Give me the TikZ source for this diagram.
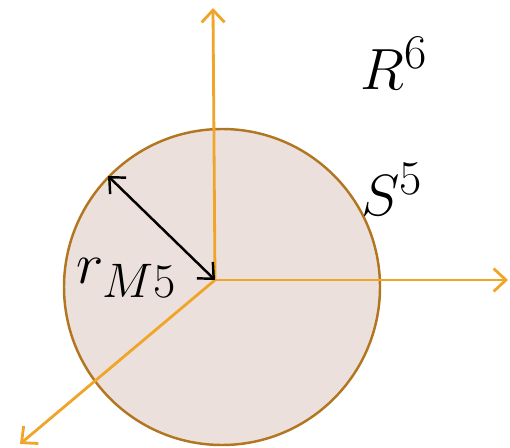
\documentclass[tikz,border=0pt]{standalone}
\usetikzlibrary{arrows.meta}
\definecolor{axisorange}{RGB}{240,165,40}
\definecolor{ballfill}{RGB}{236,224,220}
\definecolor{balledge}{RGB}{178,118,32}
\tikzset{
  axis/.style={axisorange, line width=1.6pt, -{Straight Barb[length=7pt,width=13pt]}},
  lbl/.style={font=\Huge, scale=1.33, inner sep=0pt}
}
\begin{document}
\begin{tikzpicture}
  \useasboundingbox (0,0) rectangle (10.2,-8.96);
  % bola S^5
  \draw[fill=ballfill, draw=balledge, line width=1.4pt] (4.44,-5.74) circle (3.16);
  % ejes de R^6
  \coordinate (O) at (4.30,-5.60);
  \coordinate (up) at (4.26,-0.16);
  \coordinate (right) at (10.16,-5.60);
  \coordinate (down) at (0.40,-8.88);
  \coordinate (edge) at (2.16,-3.52);
  \draw[axis] (O) -- (up);
  \draw[axis] (O) -- (right);
  \draw[axis] (O) -- (down);
  % radio
  \draw[line width=1.4pt, {Straight Barb[length=7pt,width=13pt]}-{Straight Barb[length=7pt,width=13pt]}] (edge) -- (O);
  \node[lbl] (R6) at (7.88,-1.26) {$R^6$};
  \node[lbl] (S5) at (7.84,-3.78) {$S^5$};
  \node[lbl] (rM5) at (2.54,-5.56) {$r_{M5}$};
\end{tikzpicture}
\end{document}
